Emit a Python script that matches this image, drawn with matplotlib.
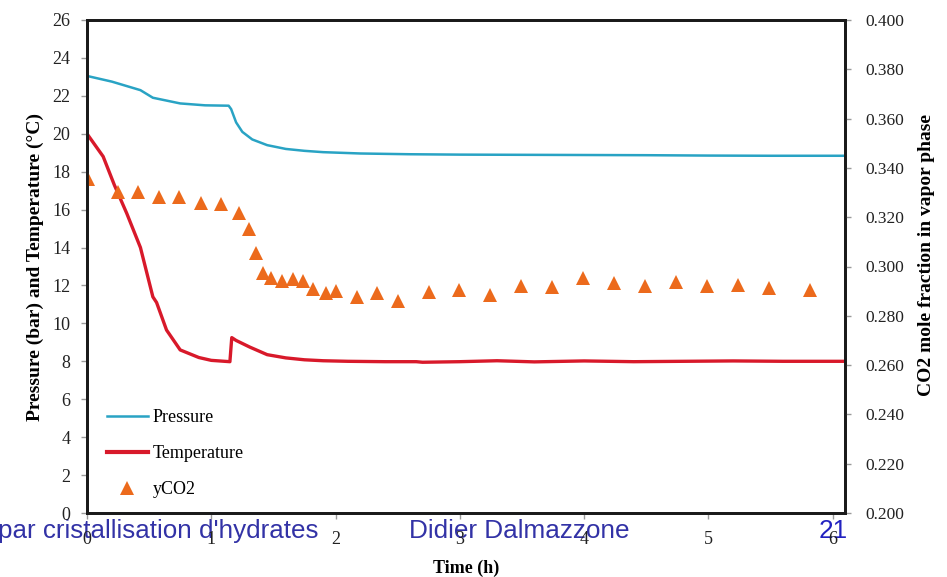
import numpy as np
import matplotlib
matplotlib.use("Agg")
import matplotlib.pyplot as plt
from matplotlib.lines import Line2D
from matplotlib.ticker import FormatStrFormatter

# Pressure (bar) vs time (h)
pressure_time = [0.0, 0.2, 0.43, 0.53, 0.75, 0.95, 1.14, 1.16, 1.2, 1.25, 1.33, 1.45,
                 1.6, 1.75, 1.9, 2.2, 2.6, 3.0, 3.5, 4.0, 4.5, 5.0, 5.5, 6.1]
pressure = [23.05, 22.75, 22.3, 21.9, 21.6, 21.5, 21.48, 21.3, 20.6, 20.1, 19.7, 19.4,
            19.2, 19.1, 19.03, 18.96, 18.92, 18.9, 18.89, 18.88, 18.87, 18.85, 18.84, 18.84]

# Temperature (degC) vs time (h)
temp_time = [0.0, 0.13, 0.22, 0.32, 0.43, 0.53, 0.56, 0.64, 0.75, 0.9, 1.0, 1.15,
             1.165, 1.2, 1.31, 1.45, 1.6, 1.75, 1.9, 2.1, 2.4, 2.65, 2.7, 3.0,
             3.3, 3.6, 4.0, 4.4, 4.8, 5.2, 5.6, 6.1]
temperature = [20.0, 18.8, 17.3, 15.8, 14.0, 11.4, 11.1, 9.65, 8.6, 8.2, 8.05, 7.98,
               9.25, 9.1, 8.75, 8.35, 8.18, 8.08, 8.03, 8.0, 7.98, 7.98, 7.95, 7.98,
               8.03, 7.97, 8.02, 7.98, 8.0, 8.02, 8.0, 8.0]

# CO2 mole fraction in the vapor phase
yco2_time = [0.01, 0.25, 0.41, 0.58, 0.74, 0.92, 1.08, 1.22, 1.30, 1.36, 1.42, 1.48,
             1.57, 1.66, 1.74, 1.82, 1.92, 2.00, 2.17, 2.33, 2.50, 2.75, 2.99, 3.24,
             3.49, 3.74, 3.99, 4.24, 4.49, 4.74, 4.99, 5.24, 5.49, 5.82]
yco2 = [0.3355, 0.3302, 0.3302, 0.3282, 0.3282, 0.3258, 0.3254, 0.3217, 0.3152, 0.3055,
        0.2974, 0.2953, 0.2941, 0.2949, 0.2941, 0.2909, 0.2893, 0.2901, 0.2876, 0.2893,
        0.2860, 0.2897, 0.2905, 0.2884, 0.2921, 0.2917, 0.2953, 0.2933, 0.2921, 0.2937,
        0.2921, 0.2925, 0.2913, 0.2905]

x_ticks = [0, 1, 2, 3, 4, 5, 6]
left_ticks = list(range(0, 27, 2))
right_ticks = [0.200, 0.220, 0.240, 0.260, 0.280, 0.300, 0.320, 0.340, 0.360, 0.380, 0.400]

C_P = "#29A3C4"
C_T = "#D8192A"
C_Y = "#EC6A1C"
C_FOOT = "#3232A6"

serif = ["Liberation Serif", "DejaVu Serif"]
sans = ["Liberation Sans", "DejaVu Sans"]

W, H = 947, 577
fig = plt.figure(figsize=(W / 100, H / 100), dpi=100)
fig.patch.set_facecolor("white")

L, R, T, B = 87, 845, 20, 513
ax = fig.add_axes([L / W, 1 - B / H, (R - L) / W, (B - T) / H])
ax2 = ax.twinx()

ax.plot(pressure_time, pressure, color=C_P, lw=1.8, solid_capstyle="butt")
ax.plot(temp_time, temperature, color=C_T, lw=2.4)
ax2.plot(yco2_time, yco2, linestyle="none", marker="^", ms=10.5, color=C_Y,
         markeredgewidth=0)

ax.set_xlim(0, 6.1)
ax.set_ylim(0, 26)
ax2.set_ylim(0.2, 0.4)
ax.set_xticks(x_ticks)
ax.set_yticks(left_ticks)
ax2.set_yticks(right_ticks)
ax2.yaxis.set_major_formatter(FormatStrFormatter("%.3f"))

for a in (ax, ax2):
    for s in a.spines.values():
        s.set_linewidth(2.0)
        s.set_color("#1a1a1a")
    a.tick_params(direction="out", length=4, width=1, color="#9a9a9a",
                  labelsize=13, labelcolor="#222222")
    for lab in a.get_xticklabels() + a.get_yticklabels():
        lab.set_fontfamily(serif)
ax.tick_params(axis="y", pad=8)
ax.tick_params(axis="x", pad=9)
ax2.tick_params(axis="y", pad=11, labelsize=12.5)

# Axis titles
fig.text(35 / W, 1 - 267 / H, "Pressure (bar) and Temperature (°C)", rotation=90,
         ha="center", va="center", fontsize=14, fontweight="bold", family=serif)
fig.text(926 / W, 1 - 255 / H, "CO2 mole fraction in vapor phase", rotation=90,
         ha="center", va="center", fontsize=14, fontweight="bold", family=serif)
fig.text(466 / W, 1 - 568 / H, "Time (h)", ha="center", va="center",
         fontsize=13, fontweight="bold", family=serif)

# Legend
handles = [
    Line2D([], [], color=C_P, lw=1.8),
    Line2D([], [], color=C_T, lw=3.0),
    Line2D([], [], color=C_Y, marker="^", ms=10, linestyle="none", markeredgewidth=0),
]
leg = ax2.legend(handles, ["Pressure", "Temperature", "yCO2"], loc="lower left",
                 bbox_to_anchor=(0.026, 0.03), frameon=False, borderpad=0,
                 borderaxespad=0, handlelength=2.3, handletextpad=0.25,
                 labelspacing=1.05, prop={"family": serif, "size": 13})

# Slide footer
fig.text(319 / W, 1 - 531 / H, "par cristallisation d'hydrates", ha="right", va="center",
         fontsize=18.7, family=sans, color=C_FOOT, zorder=-1)
fig.text(409 / W, 1 - 531 / H, "Didier Dalmazzone", ha="left", va="center",
         fontsize=18.8, family=sans, color=C_FOOT, zorder=-1)
fig.text(848 / W, 1 - 531 / H, "21", ha="right", va="center",
         fontsize=18.8, family=sans, color="#2222C0", zorder=-1)

fig.savefig("out.png", dpi=100, facecolor="white")
